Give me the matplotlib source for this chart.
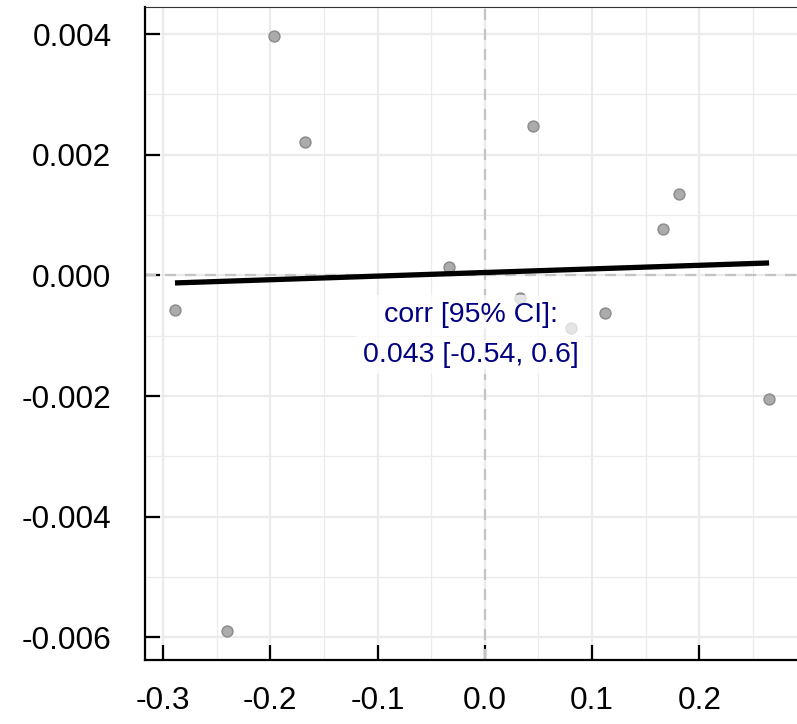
import numpy as np
import matplotlib
matplotlib.use("Agg")
import matplotlib.pyplot as plt
from matplotlib.ticker import MultipleLocator, FuncFormatter

# values
x_vals = [-0.2888, -0.1962, -0.1673, -0.0336, 0.0451, 0.0324,
          0.0806, 0.1123, 0.1660, 0.1810, 0.2650, -0.2400]
y_vals = [-0.000575, 0.00397, 0.00222, 0.000138, 0.00248, -0.000371,
          -0.000868, -0.00062, 0.000767, 0.001347, -0.002045, -0.00589]
corr_label = "corr [95% CI]:\n0.043 [-0.54, 0.6]"
x_ticks = [-0.3, -0.2, -0.1, 0.0, 0.1, 0.2]
y_ticks = [-0.006, -0.004, -0.002, 0.0, 0.002, 0.004]

plt.rcParams['font.family'] = ['Liberation Sans', 'DejaVu Sans']

fig = plt.figure(figsize=(7.97, 7.24), dpi=100)
ax = fig.add_axes([0.1816, 0.0884, 0.8184, 0.9019])

x = np.array(x_vals)
y = np.array(y_vals)

# grid
ax.set_axisbelow(True)
ax.xaxis.set_minor_locator(MultipleLocator(0.05))
ax.yaxis.set_minor_locator(MultipleLocator(0.001))
ax.grid(which="major", color="#ebebeb", lw=1.6)
ax.grid(which="minor", color="#ebebeb", lw=0.9)

# zero reference lines
ax.axhline(0, color="#c4c4c4", lw=1.6, ls=(0, (5, 4)), zorder=1)
ax.axvline(0, color="#c4c4c4", lw=1.6, ls=(0, (5, 4)), zorder=1)

ax.scatter(x, y, s=62, facecolor="#ababab", edgecolor="#8a8a8a",
           linewidth=1.0, zorder=3)

# least squares line over the data range
slope, intercept = np.polyfit(x, y, 1)
xl = np.array([x.min(), x.max()])
ax.plot(xl, slope * xl + intercept, color="black", lw=3.8,
        solid_capstyle="butt", zorder=4)

ax.text(-0.0133, -0.00098, corr_label, color="#000080", fontsize=20.5,
        ha="center", va="center", multialignment="center", linespacing=1.7,
        bbox=dict(facecolor="white", edgecolor="none", alpha=0.7, pad=5),
        zorder=5)

ax.set_xlim(-0.317, 0.291)
ax.set_ylim(-0.006376, 0.00445)
ax.set_xticks(x_ticks)
ax.set_yticks(y_ticks)
ax.xaxis.set_major_formatter(FuncFormatter(lambda v, p: f"{v:.1f}"))
ax.yaxis.set_major_formatter(FuncFormatter(lambda v, p: f"{v:.3f}"))

ax.tick_params(which="major", direction="in", length=11, width=1.6,
               labelsize=22.7, color="black")
ax.tick_params(axis="y", pad=24)
ax.tick_params(axis="x", pad=19)
ax.tick_params(which="minor", length=0)

ax.spines["right"].set_visible(False)
ax.spines["left"].set_linewidth(1.6)
ax.spines["bottom"].set_linewidth(1.6)
ax.spines["top"].set_linewidth(0.8)
ax.spines["top"].set_color("#333333")

fig.savefig("out.png", dpi=100)
